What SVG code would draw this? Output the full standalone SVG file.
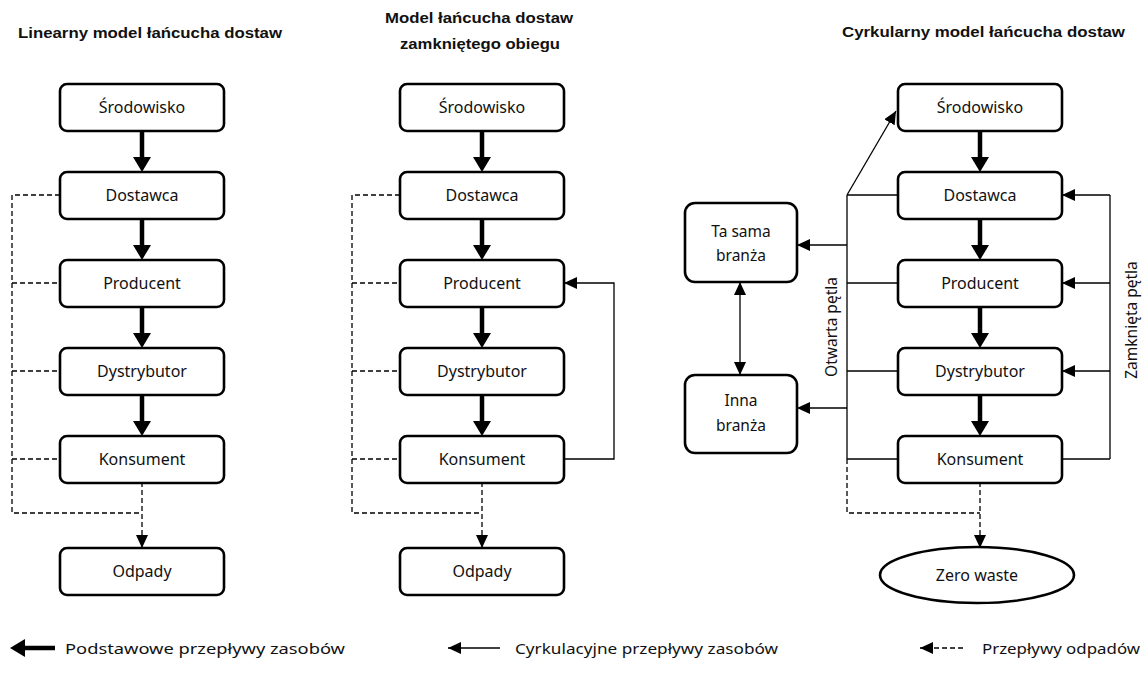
<svg xmlns="http://www.w3.org/2000/svg" width="1144" height="675" viewBox="0 0 1144 675">
<style>
.box{fill:#fff;stroke:#000;stroke-width:2.6}
.lbl{font-family:"Noto Sans","Open Sans",sans-serif;font-size:16px;fill:#111;text-anchor:middle}
.lbl2{font-family:"Noto Sans","Open Sans",sans-serif;font-size:15.5px;fill:#111;text-anchor:middle}
.ttl{font-family:"Liberation Sans",Arial,sans-serif;font-size:14.5px;font-weight:bold;fill:#111}
.leg{font-family:"Noto Sans","Open Sans",sans-serif;font-size:15px;fill:#111}
.thick{stroke:#000;stroke-width:4.5;fill:none}
.thin{stroke:#000;stroke-width:1.3;fill:none}
.dash{stroke:#000;stroke-width:1.3;fill:none;stroke-dasharray:5,3}
</style>
<defs>
<marker id="hBig" markerUnits="userSpaceOnUse" viewBox="0 0 15 18" refX="0" refY="9" markerWidth="15" markerHeight="18" orient="auto"><path d="M0,0 L15,9 L0,18 z" fill="#000"/></marker>
<marker id="hSm" markerUnits="userSpaceOnUse" viewBox="0 0 13 12" refX="13" refY="6" markerWidth="13" markerHeight="12" orient="auto"><path d="M0,0 L13,6 L0,12 z" fill="#000"/></marker>
<marker id="hSmS" markerUnits="userSpaceOnUse" viewBox="0 0 13 12" refX="13" refY="6" markerWidth="13" markerHeight="12" orient="auto-start-reverse"><path d="M0,0 L13,6 L0,12 z" fill="#000"/></marker>
</defs>

<!-- Titles -->
<text class="ttl" x="18" y="38" textLength="264" lengthAdjust="spacingAndGlyphs">Linearny model łańcucha  dostaw</text>
<text class="ttl" x="385" y="23" textLength="188" lengthAdjust="spacingAndGlyphs">Model łańcucha  dostaw</text>
<text class="ttl" x="400" y="49" textLength="160" lengthAdjust="spacingAndGlyphs">zamkniętego obiegu</text>
<text class="ttl" x="842" y="37" textLength="283" lengthAdjust="spacingAndGlyphs">Cyrkularny  model łańcucha  dostaw</text>

<!-- Connectors -->
<g id="connectors">
  <!-- left column thick -->
  <line class="thick" x1="142" y1="131" x2="142" y2="157" marker-end="url(#hBig)"/>
  <line class="thick" x1="142" y1="219" x2="142" y2="245" marker-end="url(#hBig)"/>
  <line class="thick" x1="142" y1="307" x2="142" y2="333" marker-end="url(#hBig)"/>
  <line class="thick" x1="142" y1="395" x2="142" y2="421" marker-end="url(#hBig)"/>
  <!-- left column dashed -->
  <path class="dash" d="M60,195 H12 V513 H142"/>
  <line class="dash" x1="12" y1="283" x2="60" y2="283"/>
  <line class="dash" x1="12" y1="371" x2="60" y2="371"/>
  <line class="dash" x1="12" y1="459" x2="60" y2="459"/>
  <line class="dash" x1="142" y1="482" x2="142" y2="548" marker-end="url(#hSm)"/>

  <!-- middle column thick -->
  <line class="thick" x1="482" y1="131" x2="482" y2="157" marker-end="url(#hBig)"/>
  <line class="thick" x1="482" y1="219" x2="482" y2="245" marker-end="url(#hBig)"/>
  <line class="thick" x1="482" y1="307" x2="482" y2="333" marker-end="url(#hBig)"/>
  <line class="thick" x1="482" y1="395" x2="482" y2="421" marker-end="url(#hBig)"/>
  <path class="dash" d="M400,195 H352 V513 H482"/>
  <line class="dash" x1="352" y1="283" x2="400" y2="283"/>
  <line class="dash" x1="352" y1="371" x2="400" y2="371"/>
  <line class="dash" x1="352" y1="459" x2="400" y2="459"/>
  <line class="dash" x1="482" y1="482" x2="482" y2="548" marker-end="url(#hSm)"/>
  <path class="thin" d="M564,459 H614 V283 H564" marker-end="url(#hSm)"/>

  <!-- right column thick -->
  <line class="thick" x1="980" y1="131" x2="980" y2="157" marker-end="url(#hBig)"/>
  <line class="thick" x1="980" y1="219" x2="980" y2="245" marker-end="url(#hBig)"/>
  <line class="thick" x1="980" y1="307" x2="980" y2="333" marker-end="url(#hBig)"/>
  <line class="thick" x1="980" y1="395" x2="980" y2="421" marker-end="url(#hBig)"/>
  <!-- open loop -->
  <line class="thin" x1="847" y1="195" x2="847" y2="459"/>
  <line class="thin" x1="847" y1="195" x2="898" y2="195"/>
  <line class="thin" x1="847" y1="283" x2="898" y2="283"/>
  <line class="thin" x1="847" y1="371" x2="898" y2="371"/>
  <line class="thin" x1="847" y1="459" x2="898" y2="459"/>
  <line class="thin" x1="847" y1="195" x2="896" y2="111" marker-end="url(#hSm)"/>
  <line class="thin" x1="847" y1="245" x2="797" y2="245" marker-end="url(#hSm)"/>
  <line class="thin" x1="847" y1="408" x2="797" y2="408" marker-end="url(#hSm)"/>
  <line class="thin" x1="740" y1="282" x2="740" y2="375" marker-start="url(#hSmS)" marker-end="url(#hSm)"/>
  <!-- closed loop -->
  <line class="thin" x1="1110" y1="195" x2="1110" y2="459"/>
  <line class="thin" x1="1110" y1="195" x2="1062" y2="195" marker-end="url(#hSm)"/>
  <line class="thin" x1="1110" y1="283" x2="1062" y2="283" marker-end="url(#hSm)"/>
  <line class="thin" x1="1110" y1="371" x2="1062" y2="371" marker-end="url(#hSm)"/>
  <line class="thin" x1="1062" y1="459" x2="1110" y2="459"/>
  <!-- waste -->
  <path class="dash" d="M847,459 V513 H980"/>
  <line class="dash" x1="980" y1="482" x2="980" y2="548" marker-end="url(#hSm)"/>
</g>

<!-- Left column nodes -->
<g id="l-srodowisko"><rect class="box" x="60" y="84" width="164" height="47" rx="7"/><text class="lbl" x="142" y="113">Środowisko</text></g>
<g id="l-dostawca"><rect class="box" x="60" y="172" width="164" height="47" rx="7"/><text class="lbl" x="142" y="201">Dostawca</text></g>
<g id="l-producent"><rect class="box" x="60" y="260" width="164" height="47" rx="7"/><text class="lbl" x="142" y="289">Producent</text></g>
<g id="l-dystrybutor"><rect class="box" x="60" y="348" width="164" height="47" rx="7"/><text class="lbl" x="142" y="377">Dystrybutor</text></g>
<g id="l-konsument"><rect class="box" x="60" y="436" width="164" height="47" rx="7"/><text class="lbl" x="142" y="465">Konsument</text></g>
<g id="l-odpady"><rect class="box" x="60" y="548" width="164" height="47" rx="7"/><text class="lbl" x="142" y="577">Odpady</text></g>

<!-- Middle column nodes -->
<g id="m-srodowisko"><rect class="box" x="400" y="84" width="164" height="47" rx="7"/><text class="lbl" x="482" y="113">Środowisko</text></g>
<g id="m-dostawca"><rect class="box" x="400" y="172" width="164" height="47" rx="7"/><text class="lbl" x="482" y="201">Dostawca</text></g>
<g id="m-producent"><rect class="box" x="400" y="260" width="164" height="47" rx="7"/><text class="lbl" x="482" y="289">Producent</text></g>
<g id="m-dystrybutor"><rect class="box" x="400" y="348" width="164" height="47" rx="7"/><text class="lbl" x="482" y="377">Dystrybutor</text></g>
<g id="m-konsument"><rect class="box" x="400" y="436" width="164" height="47" rx="7"/><text class="lbl" x="482" y="465">Konsument</text></g>
<g id="m-odpady"><rect class="box" x="400" y="548" width="164" height="47" rx="7"/><text class="lbl" x="482" y="577">Odpady</text></g>

<!-- Right column nodes -->
<g id="r-srodowisko"><rect class="box" x="898" y="84" width="164" height="47" rx="7"/><text class="lbl" x="980" y="113">Środowisko</text></g>
<g id="r-dostawca"><rect class="box" x="898" y="172" width="164" height="47" rx="7"/><text class="lbl" x="980" y="201">Dostawca</text></g>
<g id="r-producent"><rect class="box" x="898" y="260" width="164" height="47" rx="7"/><text class="lbl" x="980" y="289">Producent</text></g>
<g id="r-dystrybutor"><rect class="box" x="898" y="348" width="164" height="47" rx="7"/><text class="lbl" x="980" y="377">Dystrybutor</text></g>
<g id="r-konsument"><rect class="box" x="898" y="436" width="164" height="47" rx="7"/><text class="lbl" x="980" y="465">Konsument</text></g>
<g id="r-zerowaste"><ellipse class="box" cx="977" cy="575" rx="97" ry="28"/><text class="lbl" x="977" y="581">Zero waste</text></g>
<g id="r-tasama"><rect class="box" x="685" y="203" width="112" height="79" rx="10"/><text class="lbl2" x="741" y="237">Ta sama</text><text class="lbl2" x="741" y="261">branża</text></g>
<g id="r-inna"><rect class="box" x="685" y="375" width="112" height="78" rx="10"/><text class="lbl2" x="741" y="406">Inna</text><text class="lbl2" x="741" y="431">branża</text></g>

<!-- Loop labels -->
<text class="lbl2" transform="translate(837,327) rotate(-90)">Otwarta  pętla</text>
<text class="lbl2" transform="translate(1137,320) rotate(-90)">Zamknięta  pętla</text>

<!-- Legend -->
<g id="legend">
  <line class="thick" x1="55" y1="648" x2="25" y2="648" marker-end="url(#hBig)"/>
  <text class="leg" x="65" y="654" textLength="280" lengthAdjust="spacingAndGlyphs">Podstawowe  przepływy zasobów</text>
  <line class="thin" x1="500" y1="648" x2="448" y2="648" marker-end="url(#hSm)"/>
  <text class="leg" x="515" y="654" textLength="263" lengthAdjust="spacingAndGlyphs">Cyrkulacyjne przepływy zasobów</text>
  <line class="dash" x1="963" y1="648" x2="920" y2="648" stroke-dasharray="4,3" marker-end="url(#hSm)"/>
  <text class="leg" x="982" y="654" textLength="158" lengthAdjust="spacingAndGlyphs">Przepływy odpadów</text>
</g>
</svg>
